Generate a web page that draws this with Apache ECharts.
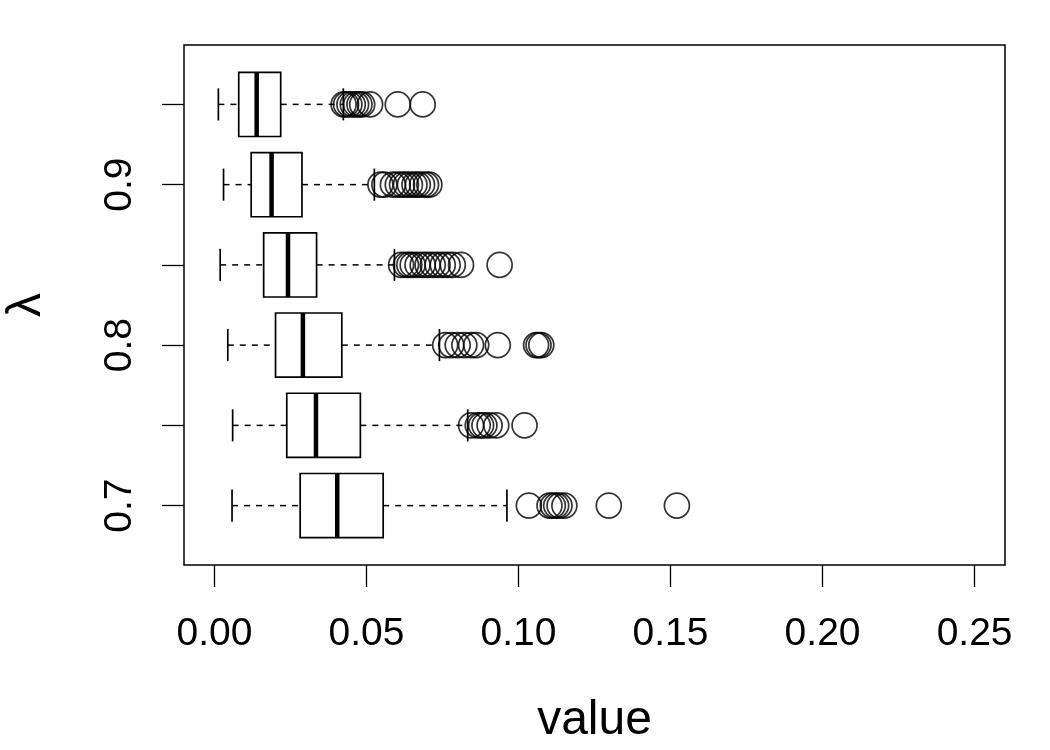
<!DOCTYPE html>
<html>
<head>
<meta charset="utf-8">
<script src="https://cdn.jsdelivr.net/npm/echarts@6/dist/echarts.min.js"></script>
<style>
  html, body { margin: 0; padding: 0; background: #fff; }
  #chart { width: 1050px; height: 750px; }
</style>
</head>
<body>
<div id="chart"></div>
<script>
// lambda groups, bottom to top
var lambdas = [0.7, 0.75, 0.8, 0.85, 0.9, 0.95]
// box stats per group
var whiskerLow = [0.0058, 0.0060, 0.0044, 0.0019, 0.0030, 0.0013]
var q1 = [0.0282, 0.0238, 0.0201, 0.0162, 0.0121, 0.0080]
var medians = [0.0404, 0.0334, 0.0291, 0.0242, 0.0188, 0.0139]
var q3 = [0.0555, 0.0480, 0.0419, 0.0336, 0.0288, 0.0218]
var whiskerHigh = [0.0962, 0.0833, 0.0740, 0.0592, 0.0526, 0.0424]
// outliers per group
var outliers = [
  [0.1034, 0.1102, 0.1113, 0.1124, 0.1135, 0.1151, 0.1297, 0.1521],
  [0.0844, 0.0866, 0.0877, 0.0888, 0.0905, 0.0927, 0.1020],
  [0.0759, 0.0779, 0.0800, 0.0822, 0.0844, 0.0861, 0.0932, 0.1058, 0.1066, 0.1075],
  [0.0614, 0.0630, 0.0641, 0.0652, 0.0668, 0.0685, 0.0701, 0.0718, 0.0734, 0.0751, 0.0767, 0.0784, 0.0811, 0.0938],
  [0.0546, 0.0559, 0.0587, 0.0603, 0.0617, 0.0630, 0.0643, 0.0658, 0.0669, 0.0683, 0.0696, 0.0707],
  [0.0425, 0.0433, 0.0444, 0.0455, 0.0466, 0.0477, 0.0486, 0.0512, 0.0603, 0.0685]
]
var xTicks = [0, 0.05, 0.10, 0.15, 0.20, 0.25]
var yTicks = [1, 2, 3, 4, 5, 6]
var yLabelTicks = [1, 3, 5]

var boxWex = 0.8
var font = 'Liberation Sans, Arial, sans-serif'

var boxData = lambdas.map(function (l, i) {
  return [i + 1, whiskerLow[i], q1[i], medians[i], q3[i], whiskerHigh[i]]
})
var outData = []
outliers.forEach(function (arr, i) {
  arr.forEach(function (v) { outData.push([v, i + 1]) })
})

function renderBox (params, api) {
  var y = api.value(0)
  var lo = api.coord([api.value(1), y])
  var a = api.coord([api.value(2), y])
  var md = api.coord([api.value(3), y])
  var b = api.coord([api.value(4), y])
  var hi = api.coord([api.value(5), y])
  var half = api.size([0, boxWex])[1] / 2
  var cap = half / 2
  var thin = { stroke: '#000', lineWidth: 1.7 }
  var dash = { stroke: '#000', lineWidth: 1.5, lineDash: [6, 6] }
  return {
    type: 'group',
    children: [
      { type: 'line', shape: { x1: lo[0], y1: lo[1], x2: a[0], y2: a[1] }, style: dash },
      { type: 'line', shape: { x1: b[0], y1: b[1], x2: hi[0], y2: hi[1] }, style: dash },
      { type: 'line', shape: { x1: lo[0], y1: lo[1] - cap, x2: lo[0], y2: lo[1] + cap }, style: thin },
      { type: 'line', shape: { x1: hi[0], y1: hi[1] - cap, x2: hi[0], y2: hi[1] + cap }, style: thin },
      { type: 'rect', shape: { x: a[0], y: a[1] - half, width: b[0] - a[0], height: half * 2 }, style: { fill: '#fff', stroke: '#000', lineWidth: 1.7 } },
      { type: 'line', shape: { x1: md[0], y1: md[1] - half, x2: md[0], y2: md[1] + half }, style: { stroke: '#000', lineWidth: 4.5 } }
    ]
  }
}

var mychart = echarts.init(document.getElementById('chart'))
mychart.setOption({
  animation: false,
  backgroundColor: '#fff',
  grid: {
    left: 184,
    right: 45,
    top: 45,
    bottom: 185,
    show: true,
    borderColor: '#000',
    borderWidth: 1.5,
    backgroundColor: 'transparent',
    containLabel: false,
    outerBoundsMode: 'none'
  },
  xAxis: {
    type: 'value',
    min: -0.01,
    max: 0.26,
    name: 'value',
    nameLocation: 'middle',
    nameGap: 132,
    nameTextStyle: { fontFamily: font, fontSize: 48, color: '#000' },
    axisLine: { show: false, onZero: false },
    splitLine: { show: false },
    axisTick: { show: true, length: 22, customValues: xTicks, lineStyle: { color: '#000', width: 1.3 } },
    axisLabel: {
      customValues: xTicks,
      margin: 50,
      fontFamily: font,
      fontSize: 39,
      color: '#000',
      formatter: function (v) { return v.toFixed(2) }
    }
  },
  yAxis: {
    type: 'value',
    min: 0.26,
    max: 6.74,
    name: 'λ',
    nameLocation: 'middle',
    nameRotate: 90,
    nameGap: 133,
    nameTextStyle: { fontFamily: font, fontSize: 48, color: '#000' },
    axisLine: { show: false, onZero: false },
    splitLine: { show: false },
    axisTick: { show: true, length: 22, customValues: yTicks, lineStyle: { color: '#000', width: 1.3 } },
    axisLabel: {
      customValues: yLabelTicks,
      rotate: 90,
      margin: 44,
      fontFamily: font,
      fontSize: 39,
      color: '#000',
      formatter: function (v) { return String(lambdas[Math.round(v) - 1]) }
    }
  },
  series: [
    {
      type: 'custom',
      renderItem: renderBox,
      data: boxData,
      encode: { x: [1, 2, 3, 4, 5], y: 0 },
      silent: true
    },
    {
      type: 'scatter',
      data: outData,
      symbol: 'circle',
      symbolSize: 25,
      silent: true,
      itemStyle: { color: 'rgba(0,0,0,0)', borderColor: '#000', borderWidth: 1.7 }
    }
  ]
})
</script>
</body>
</html>
